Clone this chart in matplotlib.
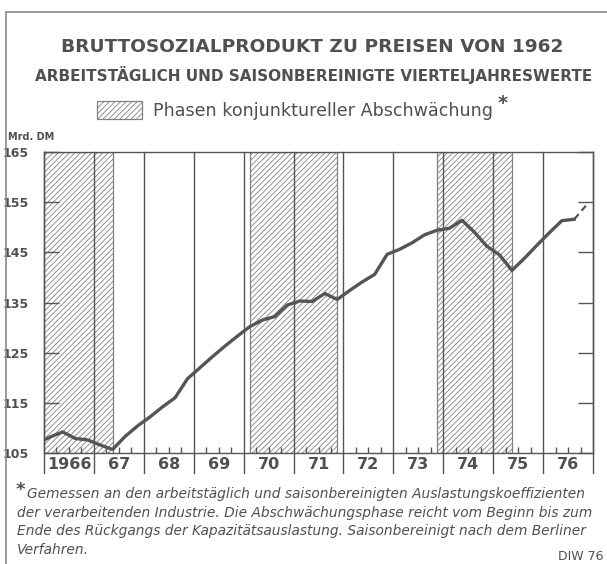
import matplotlib
matplotlib.use('Agg')
import matplotlib.pyplot as plt
from matplotlib.patches import Rectangle
from matplotlib.lines import Line2D
import matplotlib.transforms as mtransforms

# ---------------- data ----------------
years = [1966, 1967, 1968, 1969, 1970, 1971, 1972, 1973, 1974, 1975, 1976]
year_labels = ['1966', '67', '68', '69', '70', '71', '72', '73', '74', '75', '76']
y_ticks = [105, 115, 125, 135, 145, 155, 165]

# quarterly values (Mrd. DM), 1965 Q4 ... 1976 Q3
gnp_q = [107.0,
         108.2, 109.2, 107.9, 107.6,
         106.6, 105.7, 108.3, 110.4,
         112.2, 114.2, 116.0, 119.8,
         122.0, 124.2, 126.3, 128.3,
         130.2, 131.5, 132.2, 134.5,
         135.3, 135.2, 136.8, 135.6,
         137.4, 139.1, 140.6, 144.6,
         145.6, 146.9, 148.5, 149.4,
         149.8, 151.4, 149.0, 146.2,
         144.5, 141.4, 143.8, 146.4,
         148.9, 151.3, 151.6]
gnp_estimate = 154.5  # 1976 Q4 (dashed)

phase_start = [1965.75, 1970.125, 1973.875]
phase_end = [1967.375, 1971.875, 1975.375]

# time axis: quarter midpoints
quarter_mid = [0.125, 0.375, 0.625, 0.875]
t_q = [1965.875] + [y + q for y in years for q in quarter_mid][:len(gnp_q) - 1]
t_est = [t_q[-1], years[-1] + quarter_mid[3]]

# ---------------- style ----------------
TXT = '#505050'
LN = '#555555'
HATCH = '#808080'
plt.rcParams['hatch.linewidth'] = 0.6
plt.rcParams['font.family'] = ['DejaVu Sans']

W, H = 607, 564
fig = plt.figure(figsize=(W / 100, H / 100), dpi=100)
renderer = fig.canvas.get_renderer()


def fx(px):
    return px / W


def fy(py):
    return 1 - py / H


def fit_text(s, x0, x1, yc, ha='left', **kw):
    t = fig.text(fx(x0), fy(yc), s, va='center', ha='left', fontsize=10, color=TXT, **kw)
    w = t.get_window_extent(renderer).width
    t.set_fontsize(10 * (x1 - x0) / w)
    if ha == 'center':
        t.set_ha('center')
        t.set_x(fx((x0 + x1) / 2))
    return t


# frame lines of the figure
fig.add_artist(Line2D([fx(6), 1], [fy(12), fy(12)], color='#8a8a8a', lw=1.2, transform=fig.transFigure))
fig.add_artist(Line2D([fx(6), fx(6)], [fy(12), 0], color='#8a8a8a', lw=1.2, transform=fig.transFigure))

# titles
fit_text('BRUTTOSOZIALPRODUKT ZU PREISEN VON 1962', 61, 563, 47, ha='center', fontweight='bold')
fit_text('ARBEITSTÄGLICH UND SAISONBEREINIGTE VIERTELJAHRESWERTE', 34, 593, 75, ha='center', fontweight='bold')

# legend
leg = Rectangle((fx(97), fy(119)), fx(142) - fx(97), fy(101) - fy(119), transform=fig.transFigure,
                facecolor='white', edgecolor=HATCH, hatch='//////', lw=0.9)
fig.add_artist(leg)
fit_text('Phasen konjunktureller Abschwächung', 153, 490, 111)
fig.text(fx(498), fy(104), '*', fontsize=14, color=TXT, fontweight='bold', va='center', ha='left')

# ---------------- axes ----------------
ax = fig.add_axes([fx(44), fy(453), fx(593) - fx(44), fy(152) - fy(453)])
ax.set_xlim(years[0], years[-1] + 1)
ax.set_ylim(y_ticks[0], y_ticks[-1])

for s0, s1 in zip(phase_start, phase_end):
    ax.axvspan(s0, s1, facecolor='white', edgecolor=HATCH, hatch='//////', lw=0.9, zorder=1)

trans = mtransforms.blended_transform_factory(ax.transData, ax.transAxes)
for y in years + [years[-1] + 1]:
    ax.add_line(Line2D([y, y], [-0.065, 1], transform=trans, color=LN, lw=1.0, clip_on=False, zorder=2))

ax.plot(t_q, gnp_q, color=LN, lw=2.4, solid_joinstyle='round', zorder=4)
ax.plot(t_est, [gnp_q[-1], gnp_estimate], color=LN, lw=1.6, dashes=(3, 2), zorder=4)

for sp in ax.spines.values():
    sp.set_color(LN)
    sp.set_linewidth(1.0)

ax.set_yticks(y_ticks)
ax.set_yticklabels([str(v) for v in y_ticks])
ax.tick_params(axis='y', direction='in', length=11, width=1.0, color=LN, left=True, right=True,
               labelleft=True, labelright=False, pad=11, labelsize=9, labelcolor=TXT)
for lab in ax.get_yticklabels():
    lab.set_fontweight('bold')

ax.set_xticks([])
minor = [y + q for y in years for q in (0.25, 0.5, 0.75)]
ax.set_xticks(minor, minor=True)
ax.tick_params(axis='x', which='minor', direction='in', length=4, width=1.0, color=LN,
               bottom=True, top=False, labelbottom=False)

for y, lab in zip(years, year_labels):
    ax.text(y + 0.5, -0.037, lab, transform=trans, ha='center', va='center',
            fontsize=11.5, fontweight='bold', color=TXT)

fig.text(fx(8), fy(137), 'Mrd. DM', fontsize=7, fontweight='bold', color=TXT, va='center', ha='left')

# footnote
fig.text(fx(16), fy(490), '*', fontsize=13, fontweight='bold', color=TXT, va='center', ha='left')
foot = ['Gemessen an den arbeitstäglich und saisonbereinigten Auslastungskoeffizienten',
        'der verarbeitenden Industrie. Die Abschwächungsphase reicht vom Beginn bis zum',
        'Ende des Rückgangs der Kapazitätsauslastung. Saisonbereinigt nach dem Berliner',
        'Verfahren.']
fs = fit_text(foot[0], 27, 583, 494, style='italic').get_fontsize()
for i, line in enumerate(foot[1:], start=1):
    fig.text(fx(17), fy(494 + 18.5 * i), line, fontsize=fs, style='italic', color=TXT,
             va='center', ha='left')

fig.text(fx(603), fy(557), 'DIW 76', fontsize=9, color=TXT, va='center', ha='right')

fig.savefig('out.png', dpi=100)
